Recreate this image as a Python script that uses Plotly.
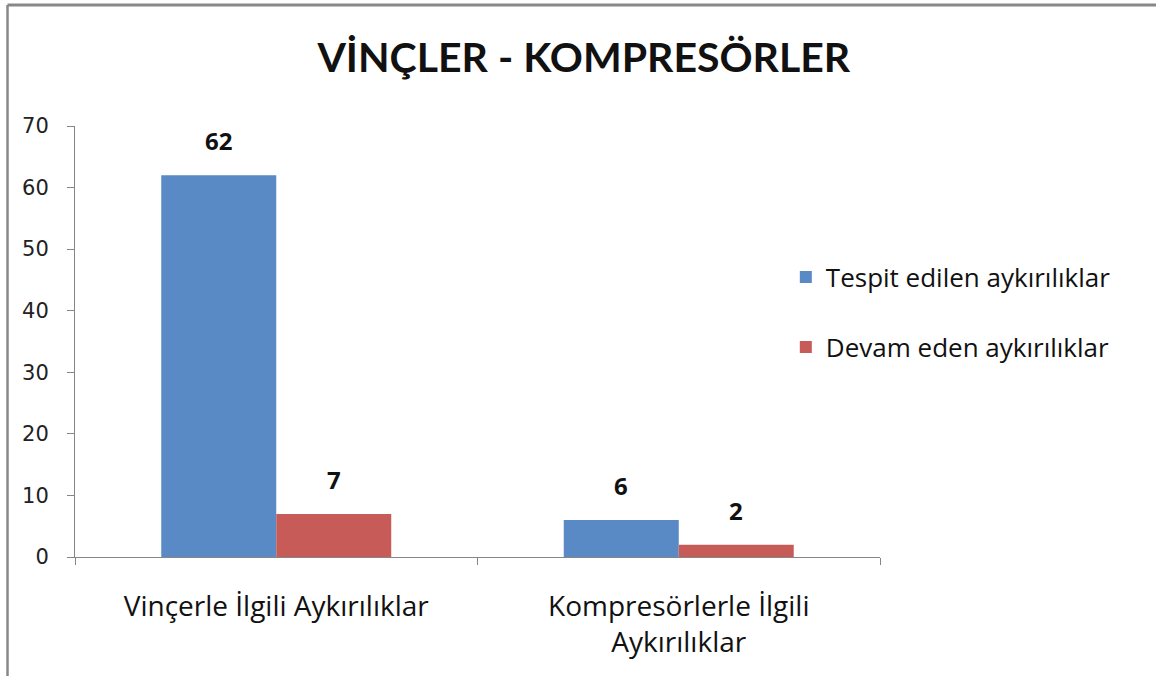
import plotly.graph_objects as go

categories = ["Vinçerle İlgili Aykırılıklar", "Kompresörlerle İlgili<br>Aykırılıklar"]
series_names = ["Tespit edilen aykırılıklar", "Devam eden aykırılıklar"]
tespit = [62, 6]
devam = [7, 2]
colors = ["#5A8AC6", "#C75B58"]
y_ticks = [0, 10, 20, 30, 40, 50, 60, 70]

TITLE_FONT = "Lato, Calibri, sans-serif"
TEXT_FONT = "Open Sans, Calibri, sans-serif"
TICK_FONT = "DejaVu Sans, Verdana, sans-serif"

fig = go.Figure()
for name, vals, col in zip(series_names, [tespit, devam], colors):
    fig.add_trace(go.Bar(x=categories, y=vals, name=name, marker=dict(color=col, line=dict(width=0)),
                         legendgroup=name))

# data labels
bar_px = 115
for i, vals in enumerate([tespit, devam]):
    shift = -bar_px / 2 if i == 0 else bar_px / 2
    for c, v in zip(categories, vals):
        fig.add_annotation(x=c, y=v, text=f"<b>{v}</b>", showarrow=False, xshift=shift,
                           yanchor="bottom", yshift=16,
                           font=dict(family=TEXT_FONT, size=24, color="#111111"))

fig.update_layout(
    width=1156, height=676,
    margin=dict(l=75, r=276, t=126, b=119),
    paper_bgcolor="white", plot_bgcolor="white",
    barmode="group", bargap=0.4286, bargroupgap=0,
    title=dict(text="<b>VİNÇLER - KOMPRESÖRLER</b>", x=0.505, xanchor="center",
               y=1 - 58 / 676, yanchor="middle",
               font=dict(family=TITLE_FONT, size=41, color="#111111")),
    font=dict(family=TEXT_FONT, color="#111111"),
    legend=dict(x=0.883, xanchor="left", y=0.568, yanchor="middle",
                font=dict(family=TEXT_FONT, size=26, color="#111111"),
                tracegroupgap=33, bgcolor="rgba(0,0,0,0)"),
    showlegend=True,
)
fig.update_yaxes(range=[0, 70], tickvals=y_ticks, showgrid=False, showline=True,
                 linecolor="#868686", linewidth=1, ticks="outside", ticklen=7,
                 tickcolor="#868686", tickfont=dict(family=TICK_FONT, size=21, color="#222222"),
                 ticklabelstandoff=14, zeroline=False)
fig.update_xaxes(showgrid=False, showline=True, linecolor="#868686", linewidth=1,
                 ticks="outside", ticklen=7, tickcolor="#868686", tickson="boundaries",
                 tickfont=dict(family=TEXT_FONT, size=28, color="#111111"), ticklabelstandoff=24)

# outer chart border (top and left edges visible)
pw, ph = 805, 431
top = (557 - 5) / ph
left = (7.5 - 75) / pw
fig.add_shape(type="line", xref="paper", yref="paper", layer="above",
              x0=left, x1=(1156 - 75) / pw, y0=top, y1=top,
              line=dict(color="#888888", width=3))
fig.add_shape(type="line", xref="paper", yref="paper", layer="above",
              x0=left, x1=left, y0=top, y1=(557 - 676) / ph,
              line=dict(color="#888888", width=2.5))

fig.write_html("out.html", config={"displayModeBar": False},
               post_script="document.body.style.margin='0px';document.body.style.overflow='hidden';")
